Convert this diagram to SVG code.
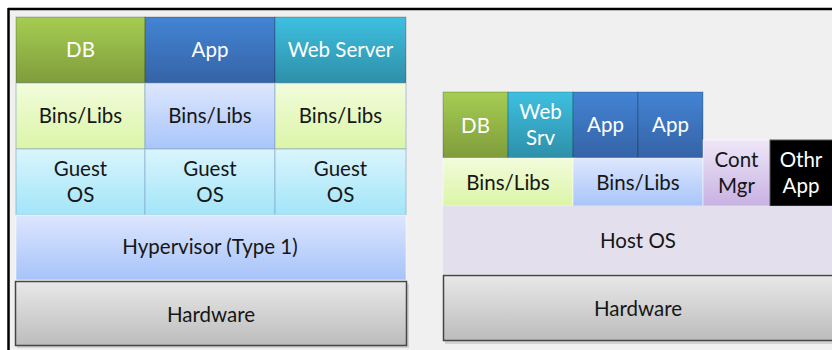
<svg xmlns="http://www.w3.org/2000/svg" width="832" height="350" viewBox="0 0 832 350">
  <defs>
    <linearGradient id="gDB" x1="0" y1="0" x2="0" y2="1">
      <stop offset="0" stop-color="#a6cd52"/>
      <stop offset="1" stop-color="#7f9c3b"/>
    </linearGradient>
    <linearGradient id="gApp" x1="0" y1="0" x2="0" y2="1">
      <stop offset="0" stop-color="#4384d4"/>
      <stop offset="1" stop-color="#3563a6"/>
    </linearGradient>
    <linearGradient id="gWeb" x1="0" y1="0" x2="0" y2="1">
      <stop offset="0" stop-color="#3ec0e0"/>
      <stop offset="1" stop-color="#2e8fa9"/>
    </linearGradient>
    <linearGradient id="gBinsG" x1="0" y1="0" x2="0" y2="1">
      <stop offset="0" stop-color="#f2fcdc"/>
      <stop offset="1" stop-color="#dbf5a7"/>
    </linearGradient>
    <linearGradient id="gBinsB" x1="0" y1="0" x2="0" y2="1">
      <stop offset="0" stop-color="#dde7fd"/>
      <stop offset="1" stop-color="#a8c5fa"/>
    </linearGradient>
    <linearGradient id="gGuest" x1="0" y1="0" x2="0" y2="1">
      <stop offset="0" stop-color="#daf5fd"/>
      <stop offset="1" stop-color="#a2e5f8"/>
    </linearGradient>
    <linearGradient id="gHyp" x1="0" y1="0" x2="0" y2="1">
      <stop offset="0" stop-color="#dde6fd"/>
      <stop offset="1" stop-color="#a6c3f9"/>
    </linearGradient>
    <linearGradient id="gHw" x1="0" y1="0" x2="0" y2="1">
      <stop offset="0" stop-color="#e8e8e8"/>
      <stop offset="1" stop-color="#bcbcbc"/>
    </linearGradient>
    <linearGradient id="gCont" x1="0" y1="0" x2="0" y2="1">
      <stop offset="0" stop-color="#eee7f7"/>
      <stop offset="1" stop-color="#c8b1e2"/>
    </linearGradient>
  </defs>
  <style>
    text { font-family: Lato, "Liberation Sans", sans-serif; font-size: 20.5px; text-anchor: middle; fill: #161616; }
    .w { fill: #ffffff; }
    .top { stroke: #000000; stroke-opacity: 0.22; stroke-width: 1; }
    .cell { stroke: #7fa2c4; stroke-opacity: 0.6; stroke-width: 1; }
    .soft { stroke: #ffffff; stroke-opacity: 0.5; stroke-width: 1; }
    .hw { fill: url(#gHw); stroke: #454545; stroke-width: 1.5; }
    .shadow { fill: #000000; opacity: 0.12; }
  </style>

  <!-- page and frame -->
  <rect x="0" y="0" width="832" height="350" fill="#ffffff"/>
  <rect x="8" y="9" width="824" height="341" fill="#f0f0f0"/>
  <line x1="8" y1="9" x2="832" y2="9" stroke="#000" stroke-width="2.5"/>
  <line x1="8.5" y1="8" x2="8.5" y2="350" stroke="#000" stroke-width="2.5"/>

  <!-- Type 1 hypervisor stack -->
  <g id="vm-db">
    <rect x="16" y="17" width="129" height="66" fill="url(#gDB)" class="top"/>
    <text x="80.5" y="57" class="w">DB</text>
  </g>
  <g id="vm-app">
    <rect x="145" y="17" width="130" height="66" fill="url(#gApp)" class="top"/>
    <text x="210" y="57" class="w">App</text>
  </g>
  <g id="vm-web">
    <rect x="275" y="17" width="131" height="66" fill="url(#gWeb)" class="top"/>
    <text x="340.5" y="57" class="w">Web Server</text>
  </g>
  <g id="vm-bins-1">
    <rect x="16" y="83" width="129" height="66" fill="url(#gBinsG)" class="cell"/>
    <text x="80.5" y="123">Bins/Libs</text>
  </g>
  <g id="vm-bins-2">
    <rect x="145" y="83" width="130" height="66" fill="url(#gBinsB)" class="cell"/>
    <text x="210" y="123">Bins/Libs</text>
  </g>
  <g id="vm-bins-3">
    <rect x="275" y="83" width="131" height="66" fill="url(#gBinsG)" class="cell"/>
    <text x="340.5" y="123">Bins/Libs</text>
  </g>
  <g id="vm-guest-1">
    <rect x="16" y="149" width="129" height="66" fill="url(#gGuest)" class="cell"/>
    <text x="80.5" y="176">Guest</text>
    <text x="80.5" y="202">OS</text>
  </g>
  <g id="vm-guest-2">
    <rect x="145" y="149" width="130" height="66" fill="url(#gGuest)" class="cell"/>
    <text x="210" y="176">Guest</text>
    <text x="210" y="202">OS</text>
  </g>
  <g id="vm-guest-3">
    <rect x="275" y="149" width="131" height="66" fill="url(#gGuest)" class="cell"/>
    <text x="340.5" y="176">Guest</text>
    <text x="340.5" y="202">OS</text>
  </g>
  <g id="hypervisor">
    <rect x="16" y="215" width="390" height="65" fill="url(#gHyp)" class="soft"/>
    <text x="210" y="254">Hypervisor (Type 1)</text>
  </g>
  <g id="vm-hardware">
    <rect x="17" y="284" width="392" height="64" class="shadow"/>
    <rect x="15.5" y="281.5" width="391" height="64" class="hw"/>
    <text x="211" y="322">Hardware</text>
  </g>

  <!-- Container stack -->
  <g id="ct-db">
    <rect x="443" y="92" width="65" height="66" fill="url(#gDB)" class="top"/>
    <text x="475.5" y="133" class="w">DB</text>
  </g>
  <g id="ct-web">
    <rect x="508" y="92" width="65" height="66" fill="url(#gWeb)" class="top"/>
    <text x="540.5" y="119" class="w">Web</text>
    <text x="540.5" y="145" class="w">Srv</text>
  </g>
  <g id="ct-app-1">
    <rect x="573" y="92" width="65" height="66" fill="url(#gApp)" class="top"/>
    <text x="605.5" y="132" class="w">App</text>
  </g>
  <g id="ct-app-2">
    <rect x="638" y="92" width="65" height="66" fill="url(#gApp)" class="top"/>
    <text x="670.5" y="132" class="w">App</text>
  </g>
  <g id="ct-bins-1">
    <rect x="443" y="158" width="130" height="48" fill="url(#gBinsG)" class="soft"/>
    <text x="508" y="190">Bins/Libs</text>
  </g>
  <g id="ct-bins-2">
    <rect x="573" y="158" width="130" height="48" fill="url(#gBinsB)" class="soft"/>
    <text x="638" y="190">Bins/Libs</text>
  </g>
  <g id="cont-mgr">
    <rect x="703" y="140" width="67" height="66" fill="url(#gCont)" class="soft"/>
    <text x="736.5" y="167">Cont</text>
    <text x="736.5" y="193">Mgr</text>
  </g>
  <g id="other-app">
    <rect x="770" y="140" width="64" height="66" fill="#000000" stroke="#555" stroke-width="1"/>
    <text x="801" y="167" class="w">Othr</text>
    <text x="801" y="193" class="w">App</text>
  </g>
  <g id="host-os">
    <rect x="443" y="206" width="391" height="68" fill="#e4dfec"/>
    <text x="638" y="248">Host OS</text>
  </g>
  <g id="ct-hardware">
    <rect x="445" y="278" width="392" height="66" class="shadow"/>
    <rect x="443.5" y="275.5" width="392" height="65" class="hw"/>
    <text x="638" y="316">Hardware</text>
  </g>
</svg>
